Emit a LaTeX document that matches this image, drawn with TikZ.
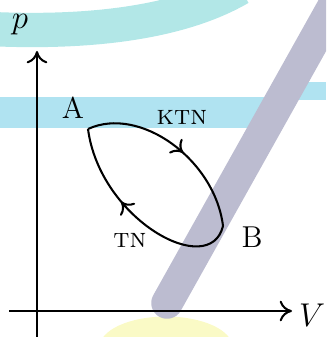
\documentclass[tikz,border=0pt]{standalone}
\usepackage{latexsym,amssymb}
\usetikzlibrary{arrows.meta,decorations.markings}

\definecolor{wmteal}{RGB}{178,231,231}
\definecolor{wmcyan}{RGB}{176,227,241}
\definecolor{wmgray}{RGB}{188,188,208}
\definecolor{wmyellow}{RGB}{250,250,198}

\begin{document}
\begin{tikzpicture}[x=0.0128cm,y=-0.0128cm,line width=0.75pt,
    tip/.style={-{To[length=4.5pt,width=7.5pt]}},
    midarrow/.style={postaction={decorate},
      decoration={markings,mark=at position #1 with {\arrow{To[length=4pt,width=7pt]}}}},
    pt/.style={font=\fontsize{11}{13}\selectfont}]
      \useasboundingbox (0,0) rectangle (326,337);
      \begin{scope}
        \clip (0,0) rectangle (326,337);
        \draw[wmteal,line width=12.5pt] (-10,29) .. controls (100,34) and (185,20) .. (240,-12);
        \fill[wmcyan] (0,97) rectangle (268,128);
        \fill[wmcyan] (285,82) rectangle (326,100);
        \fill[wmyellow] (166,347) ellipse [x radius=0.85cm, y radius=0.39cm];
        \draw[wmgray,line width=11.5pt,line cap=round] (167,303) -- (345,-15);
      \end{scope}

      \coordinate (xs) at (9,311);
      \coordinate (xe) at (292,311);
      \coordinate (ys) at (37,337);
      \coordinate (ye) at (37,51);
      \draw[tip] (xs) -- (xe);
      \draw[tip] (ys) -- (ye);
      \node (lp) at (20,25) {\large $p$};
      \node (lV) at (312,315) {\large $V$};

      \coordinate (A) at (88,129);
      \coordinate (B) at (223,226);
      \draw[midarrow=0.55] (A) .. controls (140,105) and (215,160) .. (B);
      \draw[midarrow=0.61] (B) .. controls (210,280) and (100,220) .. (A);

      \node[pt] (lA) at (73,108) {A};
      \node[pt] (lB) at (252,237) {B};
      \node (lktn) at (182,117) {\textsc{ktn}};
      \node (ltn) at (130,240) {\textsc{tn}};
    \end{tikzpicture}
\end{document}
